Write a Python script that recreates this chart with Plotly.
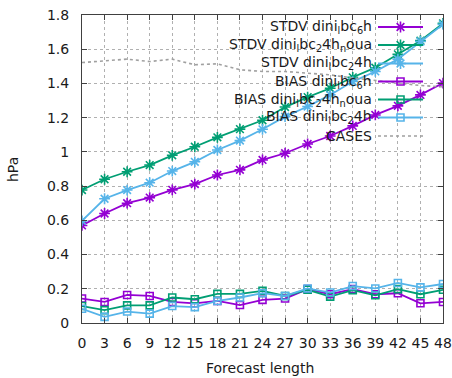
import plotly.graph_objects as go

# Forecast lead times (hours)
lead = [0, 3, 6, 9, 12, 15, 18, 21, 24, 27, 30, 33, 36, 39, 42, 45, 48]
tick_vals = lead
tick_text = [str(v) for v in lead]

# Standard deviation (hPa)
stdv_6h = [0.57, 0.64, 0.70, 0.733, 0.778, 0.812, 0.865, 0.895, 0.953, 0.992,
           1.046, 1.093, 1.152, 1.216, 1.269, 1.333, 1.402]
stdv_24h_noua = [0.777, 0.840, 0.884, 0.923, 0.980, 1.030, 1.085, 1.133, 1.185,
                 1.262, 1.320, 1.372, 1.436, 1.492, 1.570, 1.650, 1.751]
stdv_24h = [0.597, 0.726, 0.777, 0.820, 0.888, 0.942, 1.011, 1.066, 1.132, 1.206,
            1.265, 1.333, 1.411, 1.470, 1.542, 1.645, 1.745]

# Bias (hPa)
bias_6h = [0.143, 0.123, 0.164, 0.158, 0.123, 0.115, 0.129, 0.105, 0.135, 0.143,
           0.198, 0.168, 0.198, 0.168, 0.174, 0.115, 0.123]
bias_24h_noua = [0.099, 0.075, 0.103, 0.103, 0.149, 0.139, 0.170, 0.170, 0.188,
                 0.158, 0.194, 0.154, 0.192, 0.162, 0.198, 0.168, 0.194]
bias_24h = [0.083, 0.036, 0.067, 0.055, 0.099, 0.093, 0.129, 0.149, 0.174, 0.158,
            0.202, 0.178, 0.216, 0.202, 0.234, 0.208, 0.228]

# Number of cases (scaled onto the hPa axis)
cases = [1.522, 1.534, 1.542, 1.528, 1.542, 1.509, 1.515, 1.480, 1.470, 1.470,
         1.460, 1.450, 1.432, 1.418, 1.405, 1.388, 1.380]

PURPLE = "#9400D3"
GREEN = "#009E73"
BLUE = "#56B4E9"
GREY = "#a0a0a0"
FONT = "DejaVu Sans"
FS = 14
TXT = "#1a1a1a"

series = [
    ("STDV dini<sub>l</sub>bc<sub>6</sub>h", stdv_6h, PURPLE, "asterisk-open", 9),
    ("STDV dini<sub>l</sub>bc<sub>2</sub>4h<sub>n</sub>oua", stdv_24h_noua, GREEN, "asterisk-open", 9),
    ("STDV dini<sub>l</sub>bc<sub>2</sub>4h", stdv_24h, BLUE, "asterisk-open", 9),
    ("BIAS dini<sub>l</sub>bc<sub>6</sub>h", bias_6h, PURPLE, "square-open", 7),
    ("BIAS dini<sub>l</sub>bc<sub>2</sub>4h<sub>n</sub>oua", bias_24h_noua, GREEN, "square-open", 7),
    ("BIAS dini<sub>l</sub>bc<sub>2</sub>4h", bias_24h, BLUE, "square-open", 7),
]

fig = go.Figure()

for name, vals, col, sym, size in series:
    fig.add_trace(go.Scatter(
        x=lead, y=vals, mode="lines+markers", name=name,
        line=dict(color=col, width=1.8),
        marker=dict(symbol=sym, size=size, color=col, line=dict(color=col, width=1.6)),
        showlegend=False,
    ))

fig.add_trace(go.Scatter(
    x=lead, y=cases, mode="lines", name="CASES",
    line=dict(color=GREY, width=1.6, dash="dot"), showlegend=False,
))

# Gnuplot-style key: right-aligned labels with the sample to their right
L, R, T, B = 82, 9, 15, 55
W, H = 452 - L - R, 378 - T - B
def px_x(p):
    return (p - L) / W
def px_y(p):
    return (378 - B - p) / H

row_y = [27, 45, 63.5, 81.5, 99.5, 117.5, 136]
text_x = px_x(374)
s0, s1, sm = px_x(378), px_x(423), px_x(400.5)

annotations = []
key_items = [(n, c, s, z, "solid") for n, _, c, s, z in series] + [("CASES", GREY, None, 0, "dot")]
for (name, col, sym, size, dash), ry in zip(key_items, row_y):
    yy = px_y(ry)
    annotations.append(dict(
        x=text_x, y=yy, xref="paper", yref="paper", text=name, showarrow=False,
        xanchor="right", yanchor="middle", font=dict(family=FONT, size=FS, color=TXT),
    ))
    fig.add_trace(go.Scatter(
        x=[s0, s1], y=[yy, yy], mode="lines", xaxis="x2", yaxis="y2",
        line=dict(color=col, width=1.8 if dash == "solid" else 1.6, dash=dash),
        showlegend=False, hoverinfo="skip",
    ))
    if sym:
        fig.add_trace(go.Scatter(
            x=[sm], y=[yy], mode="markers", xaxis="x2", yaxis="y2",
            marker=dict(symbol=sym, size=size, color=col, line=dict(color=col, width=1.6)),
            showlegend=False, hoverinfo="skip",
        ))

# Axis titles
annotations.append(dict(
    x=px_x(260), y=px_y(368), xref="paper", yref="paper", text="Forecast length",
    showarrow=False, xanchor="center", yanchor="middle",
    font=dict(family=FONT, size=FS, color=TXT),
))
annotations.append(dict(
    x=px_x(13), y=px_y(170), xref="paper", yref="paper", text="hPa", textangle=-90,
    showarrow=False, xanchor="center", yanchor="middle",
    font=dict(family=FONT, size=FS, color=TXT),
))

axis_common = dict(
    showline=True, linecolor="#404040", linewidth=1, mirror="ticks",
    ticks="inside", ticklen=5, tickcolor="#404040", automargin=False,
    showgrid=True, gridcolor="#b0b0b0", griddash="dot", gridwidth=1,
    zeroline=False, tickfont=dict(family=FONT, size=FS, color=TXT),
)

fig.update_layout(
    width=452, height=378,
    margin=dict(l=L, r=R, t=T, b=B),
    paper_bgcolor="white", plot_bgcolor="white",
    font=dict(family=FONT, size=FS, color=TXT),
    xaxis=dict(range=[0, 48], tickvals=tick_vals, ticktext=tick_text,
               ticklabelstandoff=7, **axis_common),
    yaxis=dict(range=[0, 1.8], dtick=0.2, tickformat="~g",
               ticklabelstandoff=9, **axis_common),
    xaxis2=dict(overlaying="x", range=[0, 1], visible=False, anchor="y2"),
    yaxis2=dict(overlaying="y", range=[0, 1], visible=False, anchor="x2"),
    annotations=annotations,
    shapes=[dict(type="rect", xref="paper", yref="paper",
                 x0=px_x(188), x1=0.998, y0=px_y(147), y1=0.998,
                 fillcolor="white", line=dict(width=0), layer="between")],
)

fig.write_html("out.html")
